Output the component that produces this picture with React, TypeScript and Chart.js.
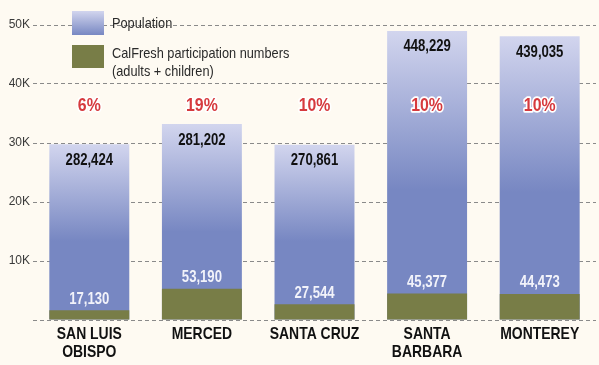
import React, { useEffect, useRef } from "react";
import { Chart, registerables } from "chart.js";

Chart.register(...registerables);

const categories: string[][] = [
  ["SAN LUIS", "OBISPO"],
  ["MERCED"],
  ["SANTA CRUZ"],
  ["SANTA", "BARBARA"],
  ["MONTEREY"],
];
// bar heights as drawn on the chart's 0–50K axis
const populationBarHeights = [29800, 33200, 29700, 49000, 48100];
const calfreshBarHeights = [1650, 5300, 2650, 4500, 4400];
// printed value labels
const populationLabels = [282424, 281202, 270861, 448229, 439035];
const calfreshLabels = [17130, 53190, 27544, 45377, 44473];
const percentLabels = ["6%", "19%", "10%", "10%", "10%"];
const percentLevel = 36200;
const yTicks = [0, 10000, 20000, 30000, 40000, 50000];

const FONT = "'Liberation Sans', Arial, sans-serif";
const BG = "#fefaf2";
const BLUE_TOP = "#d2d5ee";
const BLUE = "#7787c2";
const GREEN = "#787d47";
const RED = "#d63a3e";

function blueGradient(ctx: CanvasRenderingContext2D, top: number, bottom: number) {
  const g = ctx.createLinearGradient(0, top, 0, bottom);
  g.addColorStop(0, BLUE_TOP);
  g.addColorStop(0.55, BLUE);
  g.addColorStop(1, BLUE);
  return g;
}

function txt(
  ctx: CanvasRenderingContext2D,
  s: string,
  x: number,
  y: number,
  sx: number,
  stroke = false
) {
  ctx.save();
  ctx.translate(x, y);
  ctx.scale(sx, 1);
  if (stroke) ctx.strokeText(s, 0, 0);
  ctx.fillText(s, 0, 0);
  ctx.restore();
}

const labelPlugin = {
  id: "labelsAndLegend",
  afterDatasetsDraw(chart: any) {
    const ctx: CanvasRenderingContext2D = chart.ctx;
    const y = chart.scales.y;
    const area = chart.chartArea;
    const blueMeta = chart.getDatasetMeta(1);
    const greenMeta = chart.getDatasetMeta(0);
    ctx.save();
    ctx.textAlign = "center";
    ctx.textBaseline = "middle";
    // population labels
    ctx.font = `bold 16px ${FONT}`;
    ctx.fillStyle = "#111";
    blueMeta.data.forEach((bar: any, i: number) => {
      txt(ctx, populationLabels[i].toLocaleString("en-US"), bar.x, bar.y + 16, 0.82);
    });
    // calfresh labels
    ctx.fillStyle = "#f2f3fa";
    greenMeta.data.forEach((bar: any, i: number) => {
      txt(ctx, calfreshLabels[i].toLocaleString("en-US"), bar.x, bar.y - 11, 0.82);
    });
    // percentages
    ctx.font = `bold 18px ${FONT}`;
    ctx.lineJoin = "round";
    ctx.strokeStyle = "#ffffff";
    ctx.lineWidth = 3.5;
    ctx.fillStyle = RED;
    const py = y.getPixelForValue(percentLevel);
    blueMeta.data.forEach((bar: any, i: number) => {
      txt(ctx, percentLabels[i], bar.x, py, 0.88, true);
    });
    // category labels
    ctx.font = `bold 17px ${FONT}`;
    ctx.fillStyle = "#111";
    blueMeta.data.forEach((bar: any, i: number) => {
      categories[i].forEach((line, j) => {
        txt(ctx, line, bar.x, area.bottom + 14 + j * 18, 0.82);
      });
    });
    // legend
    ctx.fillStyle = blueGradient(ctx, 11, 55);
    ctx.fillRect(72, 11, 32, 24);
    ctx.fillStyle = GREEN;
    ctx.fillRect(72, 45, 32, 23);
    ctx.textAlign = "left";
    ctx.fillStyle = "#2a2a2a";
    ctx.font = `14.5px ${FONT}`;
    txt(ctx, "Population", 112, 24, 0.88);
    txt(ctx, "CalFresh participation numbers", 112, 54, 0.88);
    txt(ctx, "(adults + children)", 112, 72, 0.88);
    ctx.restore();
  },
};

export default function App() {
  const ref = useRef<HTMLCanvasElement>(null);
  useEffect(() => {
    document.body.style.margin = "0";
    document.body.style.background = BG;
    const canvas = ref.current!;
    const chart = new Chart(canvas, {
      type: "bar",
      data: {
        labels: categories,
        datasets: [
          {
            label: "CalFresh participation numbers (adults + children)",
            data: calfreshBarHeights,
            backgroundColor: GREEN,
            grouped: false,
            order: 0,
            barPercentage: 0.71,
            categoryPercentage: 1,
          },
          {
            label: "Population",
            data: populationBarHeights,
            backgroundColor: (c: any) => {
              const ch = c.chart;
              const area = ch.chartArea;
              if (!area || c.dataIndex === undefined) return BLUE;
              const top = ch.scales.y.getPixelForValue(populationBarHeights[c.dataIndex]);
              return blueGradient(ch.ctx, top, area.bottom);
            },
            grouped: false,
            order: 1,
            barPercentage: 0.71,
            categoryPercentage: 1,
          },
        ],
      },
      plugins: [labelPlugin],
      options: {
        animation: false,
        responsive: false,
        layout: { padding: { top: 25, right: 3, bottom: 0, left: 0 } },
        plugins: { legend: { display: false }, tooltip: { enabled: false } },
        scales: {
          x: {
            grid: { display: false },
            border: { display: false },
            ticks: { display: false },
            afterFit: (s: any) => {
              s.height = 45;
            },
          },
          y: {
            min: 0,
            max: 50000,
            afterBuildTicks: (s: any) => {
              s.ticks = yTicks.map((v) => ({ value: v }));
            },
            afterFit: (s: any) => {
              s.width = 33;
            },
            border: { display: false, dash: [4, 3] },
            grid: { color: "#8a8a8a", lineWidth: 1, drawTicks: false },
            ticks: {
              color: "#3a3a3a",
              padding: 3,
              font: { family: FONT, size: 12 },
              callback: (v: any) => (v === 0 ? "" : `${Number(v) / 1000}K`),
            },
          },
        },
      },
    } as any);
    return () => chart.destroy();
  }, []);
  return (
    <div style={{ width: 599, height: 365, background: BG }}>
      <canvas ref={ref} width={599} height={365} style={{ display: "block" }} />
    </div>
  );
}
